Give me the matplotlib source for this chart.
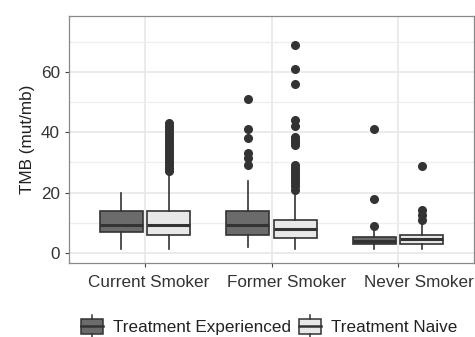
import matplotlib
matplotlib.use("Agg")
import matplotlib.pyplot as plt
import matplotlib.transforms as mtransforms
from matplotlib.patches import Rectangle
from matplotlib.lines import Line2D
from matplotlib.legend_handler import HandlerBase
import numpy as np

plt.rcParams['font.family'] = ['Liberation Sans', 'DejaVu Sans']

categories = ["Current Smoker", "Former Smoker", "Never Smoker"]
groups = ["Treatment Experienced", "Treatment Naive"]
fills = ["#6b6b6b", "#e8e8e8"]

# per category: [experienced, naive] -> (whislo, q1, med, q3, whishi)
stats_exp = [(1.1, 6.9, 9.1, 13.9, 19.9), (2.0, 5.9, 9.1, 14.0, 23.8), (1.1, 2.9, 4.0, 5.1, 7.5)]
stats_naive = [(1.1, 6.0, 9.1, 14.0, 26.0), (1.1, 4.9, 8.0, 10.9, 19.7), (1.1, 2.9, 4.7, 6.0, 10.0)]
fliers_exp = [[], [29.1, 31.4, 33.0, 38.0, 41.0, 51.0], [8.9, 17.8, 41.0]]
fliers_naive = [
    [27, 28, 29, 30, 31, 32, 33, 34, 35, 36, 37, 38, 39, 40, 41, 42, 43],
    [20.8, 22, 23, 24, 25, 26, 27, 28, 29.1, 35.8, 36.7, 37.6, 38.5, 42.1, 44.1, 55.9, 60.9, 69.0],
    [10.9, 12.5, 14.2, 28.9],
]

fig = plt.figure(figsize=(4.75, 3.37), dpi=100)
ax = fig.add_axes([0.1453, 0.2196, 0.8527, 0.7329])

edge = "#333333"
fs = 12.3
x = np.arange(1, len(categories) + 1)
off = 0.1875
bw = 0.34

for gi, (stats, fl) in enumerate([(stats_exp, fliers_exp), (stats_naive, fliers_naive)]):
    bstats = []
    for s, f in zip(stats, fl):
        bstats.append(dict(whislo=s[0], q1=s[1], med=s[2], q3=s[3], whishi=s[4], fliers=f))
    pos = x + (-off if gi == 0 else off)
    ax.bxp(bstats, positions=pos, widths=bw, patch_artist=True, showcaps=False,
           boxprops=dict(facecolor=fills[gi], edgecolor=edge, linewidth=1.2),
           medianprops=dict(color=edge, linewidth=2.2),
           whiskerprops=dict(color=edge, linewidth=1.2),
           flierprops=dict(marker='o', markerfacecolor=edge, markeredgecolor=edge, markersize=5.5),
           zorder=3)

ax.set_xlim(0.4, 3.6)
ax.set_ylim(-3.4, 78.6)
ax.set_xticks(x)
ax.set_xticklabels(categories, fontsize=fs, color="#222222")
ax.set_yticks([0, 20, 40, 60])
ax.set_yticks([10, 30, 50, 70], minor=True)
ax.tick_params(axis='y', which='minor', length=0)
ax.tick_params(axis='both', which='major', length=3, color="#444444", labelsize=fs, labelcolor="#333333")
ax.tick_params(axis='x', which='major', pad=6)
ax.grid(True, which='major', color="#e6e6e6", linewidth=1.1, zorder=0)
ax.grid(True, which='minor', axis='y', color="#eeeeee", linewidth=0.9, zorder=0)
ax.set_axisbelow(True)
for sp in ax.spines.values():
    sp.set_color("#888888")
    sp.set_linewidth(0.9)
ax.set_ylabel("TMB (mut/mb)", fontsize=fs, color="#222222", labelpad=4)

# reference labels sit slightly right of their ticks
for lbl, dx in zip(ax.get_xticklabels(), [4, 15, 21]):
    lbl.set_transform(lbl.get_transform() + mtransforms.ScaledTranslation(dx / 100, 0, fig.dpi_scale_trans))


class BoxHandler(HandlerBase):
    def __init__(self, fill):
        super().__init__()
        self.fill = fill

    def create_artists(self, legend, orig_handle, xdescent, ydescent, width, height, fontsize, trans):
        w = width
        h = height
        r = Rectangle((-xdescent, -ydescent + h * 0.0), w, h * 1.0, facecolor=self.fill,
                      edgecolor=edge, linewidth=1.1, transform=trans)
        m = Line2D([-xdescent, -xdescent + w], [-ydescent + h / 2] * 2, color=edge, linewidth=1.8, transform=trans)
        t = Line2D([-xdescent + w / 2] * 2, [-ydescent + h, -ydescent + h * 1.25], color=edge, linewidth=1.1, transform=trans)
        b = Line2D([-xdescent + w / 2] * 2, [-ydescent, -ydescent - h * 0.25], color=edge, linewidth=1.1, transform=trans)
        return [r, m, t, b]


handles = [Rectangle((0, 0), 1, 1), Rectangle((0, 0), 1, 1)]
fig.legend(handles, groups, loc='center', bbox_to_anchor=(0.567, 0.03), ncol=2, frameon=False,
           fontsize=fs, handler_map={handles[0]: BoxHandler(fills[0]), handles[1]: BoxHandler(fills[1])},
           handlelength=1.25, handleheight=1.0, handletextpad=0.6, columnspacing=0.5, labelcolor="#222222",
           borderaxespad=0.0)

fig.savefig("out.png", dpi=100)
